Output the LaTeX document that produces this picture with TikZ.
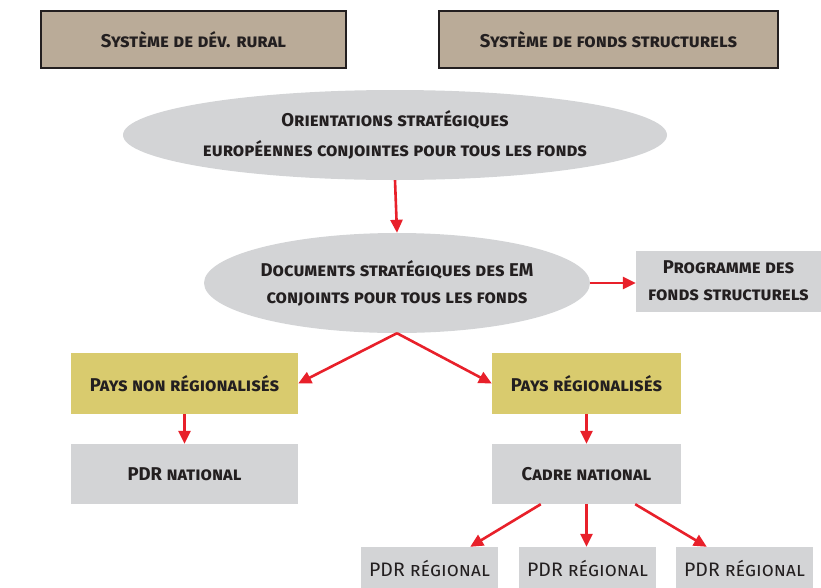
\documentclass[tikz,border=0pt]{standalone}
\usepackage{fontspec}
\setmainfont{Fira Sans}
\usetikzlibrary{arrows.meta, shapes.geometric, calc}

\definecolor{systan}{HTML}{BAAB98}
\definecolor{boxgray}{HTML}{D3D4D6}
\definecolor{paysyellow}{HTML}{D9CB6E}
\definecolor{linkred}{HTML}{E8202A}
\definecolor{textdark}{HTML}{231F20}

\begin{document}
\begin{tikzpicture}[
    x=1pt, y=-1pt,
    >={Triangle[length=13pt, width=12pt]},
    every node/.style={text=textdark, align=center,
        font=\bfseries\scshape\fontsize{18.5}{27}\selectfont},
    sysbox/.style={draw=textdark, line width=2.4pt, fill=systan,
        minimum height=57pt, inner sep=0pt},
    oval/.style={ellipse, fill=boxgray, inner sep=0pt},
    graybox/.style={fill=boxgray, minimum height=60pt, inner sep=0pt},
    paysbox/.style={fill=paysyellow, minimum height=61pt, inner sep=0pt},
    regbox/.style={fill=boxgray, minimum width=137pt, minimum height=42pt,
        inner sep=0pt, font=\mdseries\scshape\fontsize{19.5}{24}\selectfont},
    link/.style={->, draw=linkred, line width=2.6pt}
  ]
  \useasboundingbox (0,0) rectangle (821,587);

  % systems
  \node[sysbox, minimum width=305pt] (rural) at (193.5,39.5)
    {Système de dév. rural};
  \node[sysbox, minimum width=339pt] (fonds) at (608.5,39.5)
    {Système de fonds structurels};

  % strategies
  \node[oval, minimum width=544pt, minimum height=90pt,
        font=\bfseries\scshape\fontsize{18.5}{30}\selectfont] (orient) at (395,135)
    {Orientations stratégiques\\européennes conjointes pour tous les fonds};
  \node[oval, minimum width=386pt, minimum height=100pt] (docs) at (397,283)
    {Documents stratégiques des EM\\conjoints pour tous les fonds};
  \node[graybox, minimum width=185pt, minimum height=61pt] (prog) at (728.5,281)
    {Programme des\\fonds structurels};

  % countries
  \node[paysbox, minimum width=227pt] (nonreg) at (184.5,383.5)
    {Pays non régionalisés};
  \node[paysbox, minimum width=189pt] (reg) at (586.5,383.5)
    {Pays régionalisés};
  \node[graybox, minimum width=227pt] (pdrnat) at (184.5,474)
    {PDR national};
  \node[graybox, minimum width=189pt] (cadre) at (586.5,474)
    {Cadre national};

  % regional programmes
  \node[regbox] (pdrA) at (429.5,568) {PDR régional};
  \node[regbox] (pdrB) at (587.5,568) {PDR régional};
  \node[regbox] (pdrC) at (744.5,568) {PDR régional};

  \coordinate (cA) at ($(cadre.south west)+(49,0)$);
  \coordinate (cC) at ($(cadre.south east)+(-46,0)$);
  \coordinate (tA) at ($(pdrA.north east)+(-28,0)$);
  \coordinate (tC) at ($(pdrC.north west)+(31,0)$);

  \draw[link] (orient.south) -- (docs.north);
  \draw[link] (docs.east) -- (docs.east -| prog.west);
  \draw[link] (docs.south) -- (nonreg.east);
  \draw[link] (docs.south) -- (reg.west);
  \draw[link] (nonreg) -- (pdrnat);
  \draw[link] (reg) -- (cadre);
  \draw[link] (cA) -- (tA);
  \draw[link] (cadre.south) -- (cadre.south |- pdrB.north);
  \draw[link] (cC) -- (tC);
\end{tikzpicture}
\end{document}
